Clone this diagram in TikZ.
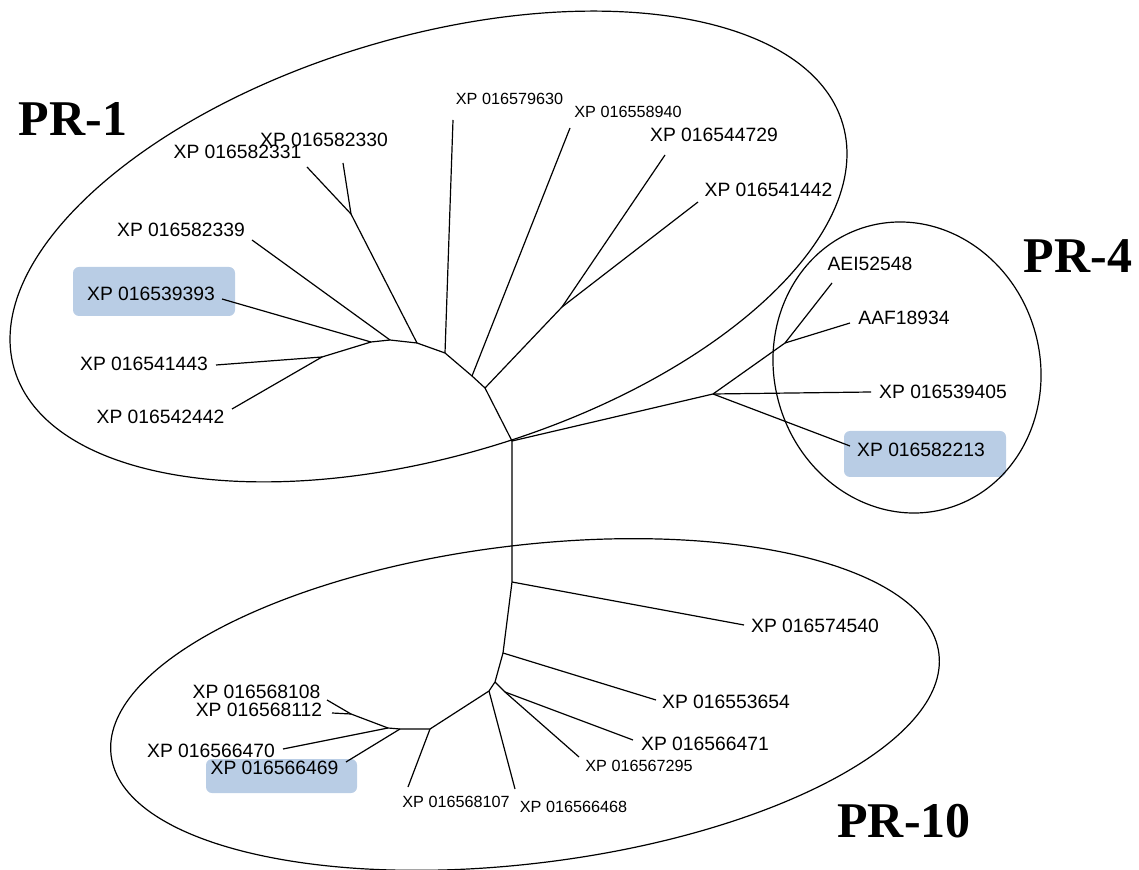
\documentclass[tikz,border=0pt]{standalone}
\usepackage{fontspec}
\setmainfont{Liberation Sans}
\newfontfamily\prfont{Liberation Serif}

\begin{document}
\begin{tikzpicture}[x=0.5pt, y=-0.5pt, line width=0.6pt, line join=round,
    leaf/.style={inner sep=0pt, font=\fontsize{9.65}{11}\selectfont},
    smallleaf/.style={inner sep=0pt, font=\fontsize{8.1}{9}\selectfont},
    family/.style={inner sep=0pt, font=\prfont\bfseries\fontsize{25}{28}\selectfont},
    hlbox/.style={fill=boxColour, rounded corners=3pt}]

    \definecolor{boxColour}{HTML}{B9CDE5}

    % Fix the picture size
    \useasboundingbox (0,0) rectangle (1139,870);

    % Draw highlight boxes
    \fill[hlbox] (73,267) rectangle (235,316);
    \fill[hlbox] (844,431) rectangle (1006,477);
    \fill[hlbox] (206,759) rectangle (357,793);

    % Draw the group outlines
    \draw[rotate around={16.5:(428.5,246.5)}] (428.5,246.5) ellipse [x radius=432, y radius=209.5];
    \draw[rotate around={16.2:(907,367.5)}] (907,367.5) ellipse [x radius=132.9, y radius=146.5];
    \draw[rotate around={7:(525,704.5)}] (525,704.5) ellipse [x radius=417, y radius=159];

    % Group names
    \node[family] (pr1) at (73,119.5) {PR-1};
    \node[family] (pr4) at (1078,256) {PR-4};
    \node[family] (pr10) at (904,821.5) {PR-10};

    % Define the inner nodes of the PR-1 branch
    \coordinate (a0) at (512,441);
    \coordinate (a1) at (485,388);
    \coordinate (a2) at (472,376);
    \coordinate (a3) at (445,353);
    \coordinate (a4) at (417,343);
    \coordinate (a5) at (390,340);
    \coordinate (a6) at (371,342);
    \coordinate (a7) at (322,357);
    \coordinate (a8) at (351,214);
    \coordinate (a9) at (562,307);

    % Define the tips of the PR-1 branch
    \coordinate (t331) at (307,167);
    \coordinate (t330) at (343,163);
    \coordinate (t339) at (252,240);
    \coordinate (t393) at (222,299);
    \coordinate (t443) at (216,365);
    \coordinate (t442) at (232,409);
    \coordinate (t630) at (453,120);
    \coordinate (t940) at (570,128);
    \coordinate (t729) at (665,155);
    \coordinate (t1442) at (698,202);

    % Define the nodes and tips of the PR-4 branch
    \coordinate (b0) at (713,394);
    \coordinate (b1) at (785,343);
    \coordinate (tAEI) at (832,283);
    \coordinate (tAAF) at (850,323);
    \coordinate (t405) at (871,392);
    \coordinate (t213) at (850,446);

    % Define the nodes and tips of the PR-10 branch
    \coordinate (c1) at (512,582);
    \coordinate (c2) at (503,653);
    \coordinate (c3) at (495,682);
    \coordinate (c4) at (489,691);
    \coordinate (c5) at (505,692);
    \coordinate (c6) at (430,729);
    \coordinate (c7) at (400,729);
    \coordinate (c8) at (388,728);
    \coordinate (c9) at (351,714);
    \coordinate (t540) at (744,625);
    \coordinate (t654) at (656,700);
    \coordinate (t471) at (633,740);
    \coordinate (t295) at (579,757);
    \coordinate (t468) at (515,789);
    \coordinate (t107) at (408,787);
    \coordinate (t469) at (346,762);
    \coordinate (t470) at (283,749);
    \coordinate (t108) at (327,700);
    \coordinate (t112) at (332,713);

    % Draw the backbones
    \draw (a7) -- (a6) -- (a5) -- (a4) -- (a3) -- (a2) -- (a1) -- (a0) -- (b0);
    \draw (a0) -- (c1) -- (c2) -- (c3) -- (c4) -- (c6) -- (c7) -- (c8) -- (c9);

    % Draw the branches
    \foreach \from/\to in {a1/a9, a9/t729, a9/t1442, a2/t940, a3/t630, a4/a8, a8/t331, a8/t330,
                           a5/t339, a6/t393, a7/t443, a7/t442,
                           b0/b1, b1/tAEI, b1/tAAF, b0/t405, b0/t213,
                           c1/t540, c2/t654, c3/c5, c5/t295, c5/t471, c4/t468, c6/t107,
                           c7/t469, c8/t470, c9/t108, c9/t112}
        \draw (\from) -- (\to);

    % Label the PR-1 sequences
    \node[leaf] (l331) at (237.5,151.5) {XP 016582331};
    \node[leaf] (l330) at (324,139.5) {XP 016582330};
    \node[leaf] (l339) at (181,230) {XP 016582339};
    \node[leaf] (l393) at (151,294) {XP 016539393};
    \node[leaf] (l443) at (144,363.5) {XP 016541443};
    \node[leaf] (l442) at (160.5,416.5) {XP 016542442};
    \node[smallleaf] (l630) at (509.5,98.5) {XP 016579630};
    \node[smallleaf] (l940) at (628,111.5) {XP 016558940};
    \node[leaf] (l729) at (714,135) {XP 016544729};
    \node[leaf] (l1442) at (768.5,190) {XP 016541442};

    % Label the PR-4 sequences
    \node[leaf] (lAEI) at (870,264) {AEI52548};
    \node[leaf] (lAAF) at (904,318) {AAF18934};
    \node[leaf] (l405) at (943,392) {XP 016539405};
    \node[leaf] (l213) at (921,450) {XP 016582213};

    % Label the PR-10 sequences
    \node[leaf] (l540) at (815,626) {XP 016574540};
    \node[leaf] (l654) at (726,702) {XP 016553654};
    \node[leaf] (l471) at (705,744) {XP 016566471};
    \node[smallleaf] (l295) at (639,765.5) {XP 016567295};
    \node[smallleaf] (l107) at (456,801.5) {XP 016568107};
    \node[smallleaf] (l468) at (573.5,806.5) {XP 016566468};
    \node[leaf] (l108) at (256.5,692) {XP 016568108};
    \node[leaf] (l112) at (259,710) {XP 016568112};
    \node[leaf] (l470) at (211,750.5) {XP 016566470};
    \node[leaf] (l469) at (274.5,768) {XP 016566469};

\end{tikzpicture}
\end{document}
